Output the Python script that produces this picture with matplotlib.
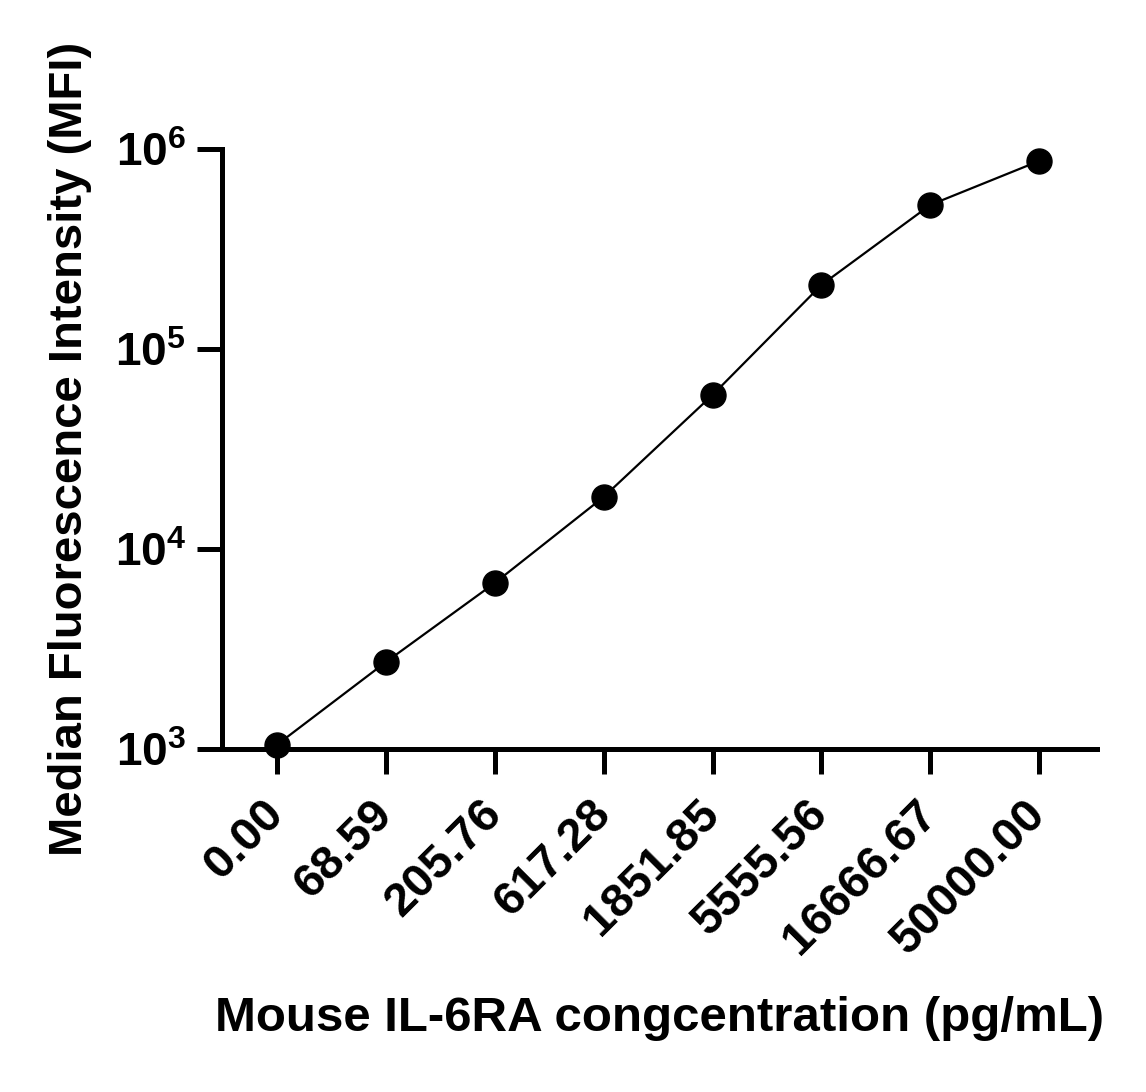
import numpy as np
import matplotlib.pyplot as plt

plt.rcParams['font.family'] = ['Liberation Sans', 'DejaVu Sans']
plt.rcParams['font.weight'] = 'bold'
plt.rcParams['mathtext.fontset'] = 'custom'
plt.rcParams['mathtext.rm'] = 'Liberation Sans:bold'
plt.rcParams['mathtext.bf'] = 'Liberation Sans:bold'

# data
conc_labels = ['0.00', '68.59', '205.76', '617.28', '1851.85',
               '5555.56', '16666.67', '50000.00']
mfi = [1050, 2720, 6760, 18200, 58900, 209000, 525000, 871000]

fig = plt.figure(figsize=(11.46, 10.92), dpi=100)
ax = fig.add_axes([0.1937, 0.3141, 0.7635, 0.5495])

x = np.arange(len(conc_labels))
ax.plot(x, mfi, color='black', linewidth=1.6, marker='o', markersize=18,
        clip_on=False, zorder=3)

ax.set_yscale('log')
ax.set_ylim(1e3, 1e6)
ax.set_xlim(-0.505, len(conc_labels) - 1 + 0.53)
ax.set_yticks([1e3, 1e4, 1e5, 1e6])
ax.set_yticklabels([r'$10^{3}$', r'$10^{4}$', r'$10^{5}$', r'$10^{6}$'],
                   fontsize=33)
ax.minorticks_off()
ax.set_xticks(x)
ax.set_xticklabels(conc_labels, rotation=45, ha='right', va='center',
                   rotation_mode='anchor', fontsize=34)

for s in ['top', 'right']:
    ax.spines[s].set_visible(False)
for s in ['left', 'bottom']:
    ax.spines[s].set_linewidth(3.6)
ax.tick_params(axis='both', width=3.6, length=18, pad=8)
ax.tick_params(axis='x', pad=24)

ax.set_xlabel('Mouse IL-6RA congcentration (pg/mL)', fontsize=35.5,
              fontweight='bold', labelpad=24)
ax.set_ylabel('Median Fluorescence Intensity (MFI)', fontsize=34,
              fontweight='bold', labelpad=16)

fig.savefig('out.png', dpi=100)
